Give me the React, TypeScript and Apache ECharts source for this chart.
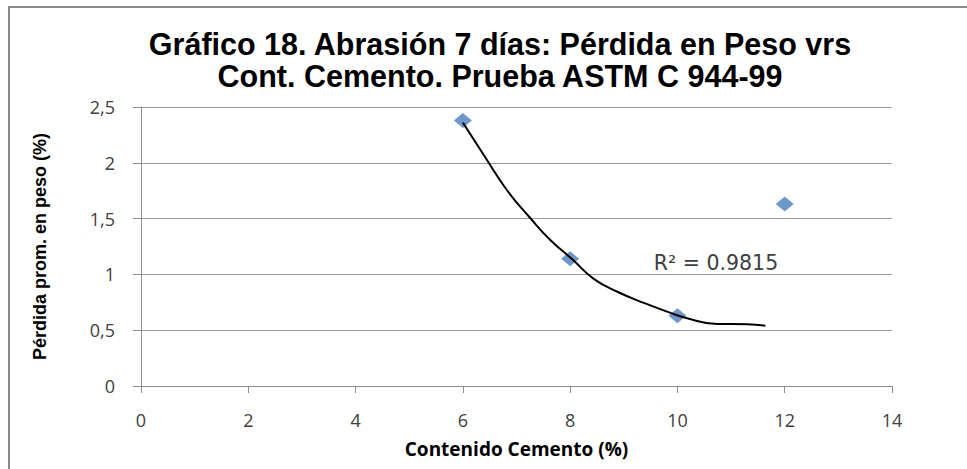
import React, { useEffect, useRef } from "react";
import * as echarts from "echarts";

const titleLines = ["Gráfico 18. Abrasión 7 días: Pérdida en Peso vrs", "Cont. Cemento. Prueba ASTM C 944-99"];
const xAxisName = "Contenido Cemento (%)";
const yAxisName = "Pérdida prom. en peso (%)";
const cementContent = [6, 8, 10, 12];
const weightLoss = [2.38, 1.14, 0.63, 1.63];
const trendX = [6.0, 6.39, 6.82, 7.26, 7.63, 8.04, 8.44, 8.9, 9.4, 9.81, 10.18, 10.74, 11.3, 11.64];
const trendY = [2.36, 2.07, 1.756, 1.503, 1.308, 1.135, 0.96, 0.84, 0.74, 0.666, 0.607, 0.556, 0.553, 0.54];
const r2Label = "R² = 0.9815";

export default function App() {
  const ref = useRef<HTMLDivElement>(null);
  useEffect(() => {
    if (!ref.current) return;
    const chart = echarts.init(ref.current, null, { renderer: "svg" });
    const labelFont = "'Open Sans', 'DejaVu Sans', sans-serif";
    const titleFont = "'Liberation Sans Narrow', 'Liberation Sans', sans-serif";
    chart.setOption({
      animation: false,
      backgroundColor: "#ffffff",
      graphic: [
        { type: "line", shape: { x1: 8, y1: 7, x2: 967, y2: 7 }, style: { stroke: "#8a8a8a", lineWidth: 2 } },
        { type: "line", shape: { x1: 9, y1: 6, x2: 9, y2: 469 }, style: { stroke: "#8a8a8a", lineWidth: 2 } },
        {
          type: "text",
          x: 500,
          y: 44,
          style: {
            text: titleLines[0],
            align: "center",
            verticalAlign: "middle",
            fontFamily: titleFont,
            fontWeight: "bold",
            fontSize: 30.5,
            fill: "#000000",
          },
        },
        {
          type: "text",
          x: 500,
          y: 76,
          style: {
            text: titleLines[1],
            align: "center",
            verticalAlign: "middle",
            fontFamily: titleFont,
            fontWeight: "bold",
            fontSize: 30.5,
            fill: "#000000",
          },
        },
        {
          type: "text",
          x: 716,
          y: 263,
          style: {
            text: r2Label,
            align: "center",
            verticalAlign: "middle",
            fontFamily: "'DejaVu Sans', sans-serif",
            fontSize: 20.5,
            fill: "#404040",
          },
        },
      ],
      grid: { left: 141, right: 75, top: 107, bottom: 83, containLabel: false },
      xAxis: {
        type: "value",
        min: 0,
        max: 14,
        interval: 2,
        name: xAxisName,
        nameLocation: "middle",
        nameGap: 53,
        nameTextStyle: { fontFamily: labelFont, fontWeight: "bold", fontSize: 19, color: "#000000" },
        axisLine: { show: true, lineStyle: { color: "#8c8c8c", width: 1 } },
        axisTick: { show: true, length: 7, lineStyle: { color: "#8c8c8c" } },
        axisLabel: { fontFamily: labelFont, fontSize: 18, color: "#404040", margin: 25 },
        splitLine: { show: false },
      },
      yAxis: {
        type: "value",
        min: 0,
        max: 2.5,
        interval: 0.5,
        name: yAxisName,
        nameLocation: "middle",
        nameGap: 92,
        nameRotate: 90,
        nameTextStyle: {
          fontFamily: titleFont,
          fontWeight: "bold",
          fontSize: 18,
          color: "#000000",
        },
        axisLine: { show: true, lineStyle: { color: "#8c8c8c", width: 1 } },
        axisTick: { show: true, length: 8, lineStyle: { color: "#8c8c8c" } },
        axisLabel: {
          fontFamily: labelFont,
          fontSize: 18,
          color: "#404040",
          margin: 26,
          formatter: (v: number) => String(v).replace(".", ","),
        },
        splitLine: { show: true, lineStyle: { color: "#9a9a9a", width: 1 } },
      },
      series: [
        {
          type: "line",
          data: trendX.map((x, i) => [x, trendY[i]]),
          smooth: 0.5,
          showSymbol: false,
          lineStyle: { color: "#000000", width: 2 },
          z: 3,
        },
        {
          type: "scatter",
          data: cementContent.map((x, i) => [x, weightLoss[i]]),
          symbol: "diamond",
          symbolSize: [18, 15],
          itemStyle: { color: "#4a7ebb" },
          z: 2,
        },
      ],
    });
    return () => chart.dispose();
  }, []);
  return <div ref={ref} style={{ position: "absolute", left: 0, top: 0, width: 967, height: 469 }} />;
}
